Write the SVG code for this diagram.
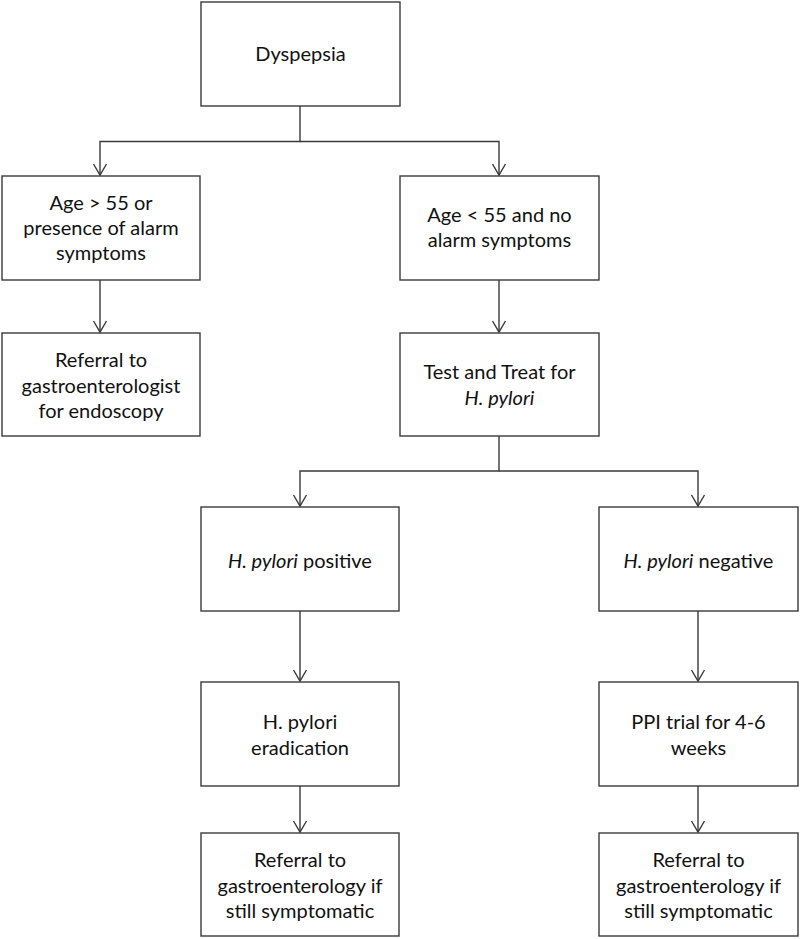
<svg xmlns="http://www.w3.org/2000/svg" width="800" height="939" viewBox="0 0 800 939">
<style>
.box{fill:#fff;stroke:#3a3a3a;stroke-width:1.4}
.t{font-family:Lato,"Liberation Sans",Arial,sans-serif;font-size:20px;fill:#111;text-anchor:middle}
.i{font-style:italic}
.c{fill:none;stroke:#3a3a3a;stroke-width:1.4}
</style>
<defs>
<marker id="arr" markerUnits="userSpaceOnUse" markerWidth="16" markerHeight="16" viewBox="-13 -8 15 16" refX="0" refY="0" orient="auto">
<path d="M-11,-6.5 L0,0 L-11,6.5" fill="none" stroke="#3a3a3a" stroke-width="1.4"/>
</marker>
</defs>
<rect width="800" height="939" fill="#fff"/>
<g id="connectors">
<path class="c" d="M300,106 V141.5 H100 V175" marker-end="url(#arr)"/>
<path class="c" d="M300,141.5 H499 V175" marker-end="url(#arr)"/>
<path class="c" d="M100,280 V332" marker-end="url(#arr)"/>
<path class="c" d="M499,280 V332" marker-end="url(#arr)"/>
<path class="c" d="M499,436 V471 H300 V506" marker-end="url(#arr)"/>
<path class="c" d="M499,471 H698 V506" marker-end="url(#arr)"/>
<path class="c" d="M300,611 V681" marker-end="url(#arr)"/>
<path class="c" d="M698,611 V681" marker-end="url(#arr)"/>
<path class="c" d="M300,786 V832" marker-end="url(#arr)"/>
<path class="c" d="M698,786 V832" marker-end="url(#arr)"/>
</g>
<g id="dyspepsia">
<rect class="box" x="201" y="2" width="199" height="104"/>
<text class="t" x="300.5" y="61">Dyspepsia</text>
</g>
<g id="age-over-55">
<rect class="box" x="2" y="176" width="198" height="104"/>
<text class="t" x="101" y="210">Age &gt; 55 or</text>
<text class="t" x="101" y="235">presence of alarm</text>
<text class="t" x="101" y="260">symptoms</text>
</g>
<g id="age-under-55">
<rect class="box" x="400" y="176" width="199" height="104"/>
<text class="t" x="499.5" y="222">Age &lt; 55 and no</text>
<text class="t" x="499.5" y="247">alarm symptoms</text>
</g>
<g id="referral-endoscopy">
<rect class="box" x="2" y="333" width="198" height="103"/>
<text class="t" x="101" y="367">Referral to</text>
<text class="t" x="101" y="393">gastroenterologist</text>
<text class="t" x="101" y="418">for endoscopy</text>
</g>
<g id="test-and-treat">
<rect class="box" x="400" y="333" width="199" height="103"/>
<text class="t" x="499.5" y="379">Test and Treat for</text>
<text class="t i" x="499.5" y="405">H. pylori</text>
</g>
<g id="hp-positive">
<rect class="box" x="201" y="507" width="198" height="104"/>
<text class="t" x="300" y="568"><tspan class="i">H. pylori</tspan> positive</text>
</g>
<g id="hp-negative">
<rect class="box" x="599" y="507" width="199" height="104"/>
<text class="t" x="698.5" y="568"><tspan class="i">H. pylori</tspan> negative</text>
</g>
<g id="eradication">
<rect class="box" x="201" y="682" width="198" height="104"/>
<text class="t" x="300" y="729">H. pylori</text>
<text class="t" x="300" y="755">eradication</text>
</g>
<g id="ppi-trial">
<rect class="box" x="599" y="682" width="199" height="104"/>
<text class="t" x="698.5" y="729">PPI trial for 4-6</text>
<text class="t" x="698.5" y="755">weeks</text>
</g>
<g id="referral-left">
<rect class="box" x="201" y="833" width="198" height="103"/>
<text class="t" x="300" y="867">Referral to</text>
<text class="t" x="300" y="893">gastroenterology if</text>
<text class="t" x="300" y="918">still symptomatic</text>
</g>
<g id="referral-right">
<rect class="box" x="599" y="833" width="199" height="103"/>
<text class="t" x="698.5" y="867">Referral to</text>
<text class="t" x="698.5" y="893">gastroenterology if</text>
<text class="t" x="698.5" y="918">still symptomatic</text>
</g>
</svg>
